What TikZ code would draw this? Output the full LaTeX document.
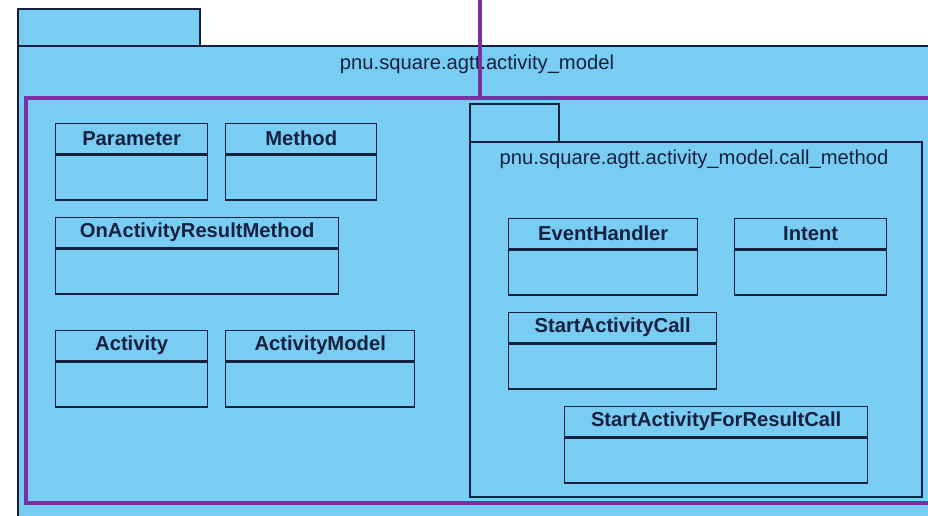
\documentclass[tikz,border=0pt]{standalone}
\usepackage{fontspec}
\setmainfont{Liberation Sans}
\definecolor{pkgblue}{RGB}{122,205,242}
\definecolor{umlline}{RGB}{22,32,64}
\definecolor{hilite}{RGB}{122,48,160}
\tikzset{
  pkg/.style={draw=umlline, fill=pkgblue, line width=0.8pt},
  pkgtitle/.style={font=\fontsize{11.5}{13}\selectfont, text=umlline},
  clshead/.style={draw=umlline, fill=pkgblue, line width=0.8pt, minimum width=#1,
    minimum height=0.6cm, inner sep=0pt, anchor=north west,
    font=\fontsize{11.5}{13}\selectfont\bfseries, text=umlline},
  clsbody/.style={draw=umlline, fill=pkgblue, line width=0.8pt, minimum width=#1,
    minimum height=0.9cm, inner sep=0pt, anchor=north},
  hilitebox/.style={draw=hilite, line width=2.2pt}
}
\begin{document}
\begin{tikzpicture}[x=0.02cm, y=-0.02cm]
  \useasboundingbox (0,0) rectangle (928,515);
  \clip (0,0) rectangle (928,515);
  \fill[white] (0,0) rectangle (928,515);
  % outer package
  \draw[pkg] (18,9) rectangle (200,46);
  \draw[pkg] (18,46) rectangle (945,530);
  \node[pkgtitle] (outertitle) at (477,64) {pnu.square.agtt.activity\_model};
  % left classes
  \node[clshead=3.04cm] (param) at (55,123) {Parameter};
  \node[clsbody=3.04cm] (param-b) at (param.south) {};
  \node[clshead=3.02cm] (method) at (225,123) {Method};
  \node[clsbody=3.02cm] (method-b) at (method.south) {};
  \node[clshead=5.66cm] (onresult) at (55,217) {OnActivityResultMethod};
  \node[clsbody=5.66cm] (onresult-b) at (onresult.south) {};
  \node[clshead=3.04cm] (activity) at (55,330) {Activity};
  \node[clsbody=3.04cm] (activity-b) at (activity.south) {};
  \node[clshead=3.78cm] (actmodel) at (225,330) {ActivityModel};
  \node[clsbody=3.78cm] (actmodel-b) at (actmodel.south) {};
  % inner package call_method
  \draw[pkg] (470,104) rectangle (559,142);
  \draw[pkg] (470,142) rectangle (922,497);
  \node[pkgtitle] (innertitle) at (694,159) {pnu.square.agtt.activity\_model.call\_method};
  \node[clshead=3.78cm] (evhandler) at (508,218) {EventHandler};
  \node[clsbody=3.78cm] (evhandler-b) at (evhandler.south) {};
  \node[clshead=3.04cm] (intent) at (734,218) {Intent};
  \node[clsbody=3.04cm] (intent-b) at (intent.south) {};
  \node[clshead=4.16cm] (startcall) at (508,312) {StartActivityCall};
  \node[clsbody=4.16cm] (startcall-b) at (startcall.south) {};
  \node[clshead=6.06cm] (resultcall) at (564,406) {StartActivityForResultCall};
  \node[clsbody=6.06cm] (resultcall-b) at (resultcall.south) {};
  % highlight
  \draw[hilitebox] (26,98) rectangle (945,503);
  \draw[hilitebox] (480,-5) -- (480,98);
\end{tikzpicture}
\end{document}
